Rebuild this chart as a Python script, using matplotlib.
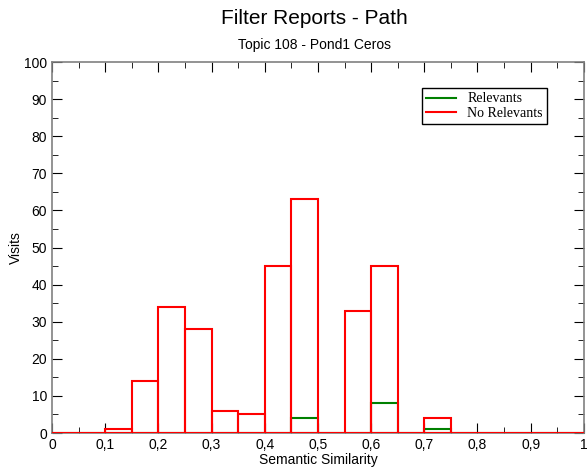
import numpy as np
import matplotlib.pyplot as plt
from matplotlib.ticker import MultipleLocator, FuncFormatter
from matplotlib.lines import Line2D

# bin left edges (width 0.05)
bins = np.round(np.arange(0, 1.0, 0.05), 2)
no_relevants = [0, 0, 1, 14, 34, 28, 6, 5, 45, 63, 0, 33, 45, 0, 4, 0, 0, 0, 0, 0]
relevants = [0, 0, 0, 0, 0, 0, 0, 0, 0, 4, 0, 0, 8, 0, 1, 0, 0, 0, 0, 0]

plt.rcParams['font.family'] = ['Liberation Sans', 'DejaVu Sans']

fig = plt.figure(figsize=(5.87, 4.72), dpi=100)
ax = fig.add_axes([0.0886, 0.0826, 0.906, 0.786])

ax.bar(bins, relevants, width=0.05, align='edge', fill=False,
       edgecolor='#008000', linewidth=1.5, label='Relevants', zorder=2)
ax.bar(bins, no_relevants, width=0.05, align='edge', fill=False,
       edgecolor='#ff0000', linewidth=1.5, label='No Relevants', zorder=3)

ax.set_xlim(0, 1)
ax.set_ylim(0, 100)
ax.xaxis.set_major_locator(MultipleLocator(0.1))
ax.xaxis.set_minor_locator(MultipleLocator(0.05))
ax.yaxis.set_major_locator(MultipleLocator(10))
ax.yaxis.set_minor_locator(MultipleLocator(5))
ax.xaxis.set_major_formatter(FuncFormatter(lambda v, p: ('%g' % round(v, 2)).replace('.', ',')))
ax.tick_params(which='both', direction='in', top=True, right=True, labelsize=10, color='black')
ax.tick_params(which='major', length=7)
ax.tick_params(which='minor', length=4)
for s in ax.spines.values():
    s.set_color('#808080')
    s.set_linewidth(1.2)

ax.set_xlabel('Semantic Similarity', fontsize=10, labelpad=1)
ax.set_ylabel('Visits', fontsize=10, labelpad=1)

fig.text(0.535, 0.96, 'Filter Reports - Path', ha='center', va='center', fontsize=15)
fig.text(0.535, 0.905, 'Topic 108 - Pond1 Ceros', ha='center', va='center', fontsize=10)

handles = [Line2D([], [], color='#008000', lw=1.5), Line2D([], [], color='#ff0000', lw=1.5)]
leg = ax.legend(handles, ['Relevants', 'No Relevants'], loc='upper right',
                bbox_to_anchor=(0.944, 0.948), fancybox=False, framealpha=1,
                edgecolor='black', prop={'family': 'Liberation Serif', 'size': 10},
                handlelength=2.2, borderpad=0.3, labelspacing=0.1, handletextpad=0.8)
leg.get_frame().set_linewidth(1.0)

fig.savefig('out.png', dpi=100)
